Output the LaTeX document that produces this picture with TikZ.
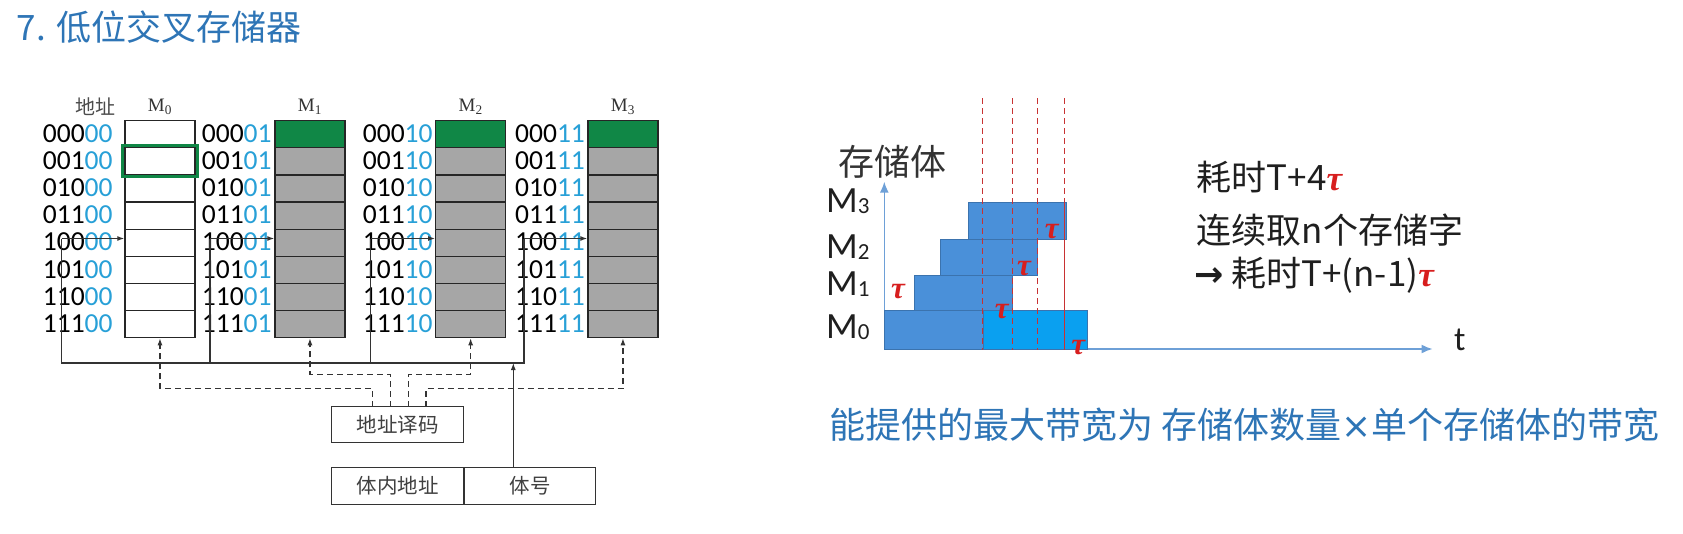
\documentclass[tikz,border=0pt]{standalone}
\usepackage{fontspec}
\setmainfont{Carlito}
\newfontfamily\cjk{Noto Sans CJK SC}
\newfontfamily\cali{Carlito}
\newfontfamily\tnr{Liberation Serif}
\newfontfamily\dejavu{DejaVu Sans}
\usetikzlibrary{arrows.meta,calc}
\definecolor{bitblue}{RGB}{40,160,215}
\definecolor{titleblue}{RGB}{46,117,182}
\definecolor{cellgreen}{RGB}{16,135,70}
\definecolor{cellgray}{RGB}{166,166,166}
\definecolor{barblue}{RGB}{74,144,217}
\definecolor{barlight}{RGB}{10,160,240}
\definecolor{axisblue}{RGB}{110,160,215}
\definecolor{taured}{RGB}{215,30,30}
\definecolor{dashred}{RGB}{200,50,50}
\tikzset{
 cell/.style={draw=black!85, line width=1.3pt, minimum width=70pt, minimum height=27.125pt, inner sep=0, anchor=north west},
 wire/.style={draw=black!80, line width=1.1pt},
 dwire/.style={wire, dash pattern=on 6pt off 4pt},
 arrowtip/.style={-{Latex[length=7pt,width=5pt]}},
 addr/.style={anchor=west, inner sep=0, font=\cali\fontsize{27.5}{30}\selectfont},
 mlabel/.style={inner sep=0, text=black!80, font=\tnr\fontsize{19}{20}\selectfont},
 plainbox/.style={draw=black!80, line width=1.2pt, inner sep=0, font=\cjk\fontsize{20.5}{22}\selectfont, text=black!75},
 tau/.style={text=taured, font=\tnr\bfseries\itshape\fontsize{31}{33}\selectfont, inner sep=0},
 rtext/.style={anchor=west, inner sep=0, text=black!88, font=\cjk\fontsize{35}{40}\selectfont},
 mtext/.style={anchor=west, inner sep=0, text=black!88, font=\cali\fontsize{37}{40}\selectfont},
 chartbar/.style={fill=barblue, draw=barblue!80!black, line width=0.6pt},
 redline/.style={draw=dashred, line width=1pt, dash pattern=on 6pt off 4pt},
 chartaxis/.style={draw=axisblue, line width=1.5pt, -{Latex[length=11pt,width=9pt]}},
}
\newcommand\msub[1]{\raisebox{-1pt}{\fontsize{23}{23}\selectfont #1}}
\newcommand\redtau{{\tnr\bfseries\itshape\color{taured}τ}}
\begin{document}
\begin{tikzpicture}[x=1pt,y=-1pt]
\useasboundingbox (0,0) rectangle (1683,533);

% title
\node[anchor=west, inner sep=0, text=titleblue, font=\cjk\fontsize{35}{40}\selectfont] (title) at (16.7,26.7) {7. 低位交叉存储器};

% header
\node[inner sep=0, text=black!70, font=\cjk\fontsize{20}{22}\selectfont] (addrhdr) at (95.5,107) {地址};

\foreach \b/\L/\T/\lb/\V in {0/124.3/42.7/00/61.7, 1/274.3/201.7/01/210, 2/435/362.7/10/370.7, 3/587.3/515/11/524}{
  \foreach \hb [count=\r from 0] in {000,001,010,011,100,101,110,111}{
    \ifnum\b=0 \def\cf{white}\else\ifnum\r=0 \def\cf{cellgreen}\else\def\cf{cellgray}\fi\fi
    \node[cell, fill=\cf] (c\b-\r) at (\L,120+\r*27.125) {};
    \node[addr] (a\b-\r) at (\T,133.56+\r*27.125) {\hb\textcolor{bitblue}{\lb}};
  }
  \node[mlabel] (lab\b) at ($(c\b-0.north)+(0,-13)$) {M\textsubscript{\b}};
  \coordinate (v\b) at (\V,238.5);
  \coordinate (bus\b) at (\V,363);
}

% green frame on M0 row 2
\draw[draw=cellgreen, line width=3pt] ([shift={(-1.8,-1.8)}]c0-1.north west) rectangle ([shift={(1.8,0.5)}]c0-1.south east);

% address wires
\draw[wire] (v0) -- (bus0) -- (bus3) -- (v3);
\draw[wire] (v1) -- (bus1);
\draw[wire] (v2) -- (bus2);
\foreach \b in {0,...,3} \draw[wire, arrowtip] (v\b) -- (v\b -| c\b-4.west);

% decoder
\node[plainbox, minimum width=131.6pt, minimum height=36pt] (dec) at (397.5,424.7) {地址译码};
\coordinate (d0) at (372.7,406.7);
\coordinate (d1) at (390.5,406.7);
\coordinate (d2) at (408.3,406.7);
\coordinate (d3) at (426,406.7);
\draw[dwire, arrowtip] (d0) -- (372.7,388.3) -| (c0-7.south);
\draw[dwire, arrowtip] (d1) -- (390.5,374.5) -| (c1-7.south);
\draw[dwire, arrowtip] (d2) -- (408.3,374.5) -| (c2-7.south);
\draw[dwire, arrowtip] (d3) -- (426,388.3) -| (c3-7.south);

% address register
\node[plainbox, minimum width=132.3pt, minimum height=37pt] (inner) at (397.85,485.8) {体内地址};
\node[plainbox, minimum width=131pt, minimum height=37pt, anchor=west] (bank) at ([xshift=-0.6pt]inner.east) {体号};
\coordinate (busin) at (513.3,363);
\draw[wire, arrowtip] (bank.north -| busin) -- (busin);

% chart
\draw[chartaxis] (884.3,349) -- (884.3,181.7);
\draw[chartaxis] (884.3,349) -- (1432.5,349);
\draw[chartbar] (884.3,310.7) rectangle (983,349);
\draw[chartbar, fill=barlight] (983,310.7) rectangle (1087,349);
\draw[chartbar] (914.3,275.7) rectangle (1012.3,310.7);
\draw[chartbar] (940,239) rectangle (1037.7,275.7);
\draw[chartbar] (968.3,202.7) rectangle (1066.7,239);
\foreach \x in {982.7,1012,1037.3} \draw[redline] (\x,98) -- (\x,350);
\draw[redline] (1064,98) -- (1064,202.7);
\draw[draw=dashred, line width=1pt] (1064,202.7) -- (1064,350);

\node[mtext] (mk3) at (826,201.7) {M\msub{3}};
\node[mtext] (mk2) at (826,246.7) {M\msub{2}};
\node[mtext] (mk1) at (826,284.5) {M\msub{1}};
\node[mtext] (mk0) at (826,327.5) {M\msub{0}};
\node[anchor=west, inner sep=0, text=black!80, font=\cjk\fontsize{36}{40}\selectfont] (ylab) at (838,161.7) {存储体};
\node[inner sep=0, text=black!88, font=\cali\fontsize{34}{36}\selectfont] (tlab) at (1459.7,340) {t};

\node[tau] (tau1) at (898,291.7) {τ};
\node[tau] (tau2) at (1001.7,311.7) {τ};
\node[tau] (tau3) at (1024,268.3) {τ};
\node[tau] (tau4) at (1051.7,231.7) {τ};
\node[tau] (tau5) at (1078.3,348) {τ};

% right texts
\node[rtext] (r1) at (1196.7,177.3) {耗时T+4\redtau};
\node[rtext] (r2) at (1196.7,230) {连续取n个存储字};
\node[rtext] (r3) at (1194,275) {{\dejavu\bfseries →} 耗时T+(n-1)\redtau};

% bottom text
\node[anchor=west, inner sep=0, text=titleblue, font=\cjk\fontsize{36}{40}\selectfont] (bw) at (829.3,424.5) {能提供的最大带宽为 存储体数量{\dejavu ×}单个存储体的带宽};
\end{tikzpicture}
\end{document}
